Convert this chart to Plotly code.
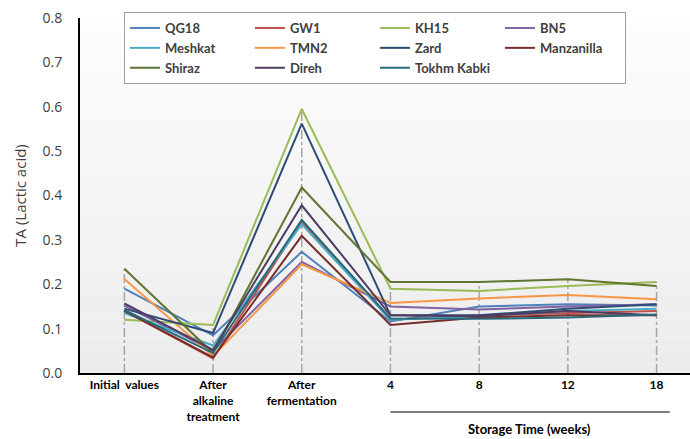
import plotly.graph_objects as go

categories = ["Initial  values", "After<br>alkaline<br>treatment", "After<br>fermentation", "4", "8", "12", "18"]

series_names = ["QG18", "GW1", "KH15", "BN5", "Meshkat", "TMN2", "Zard",
                "Manzanilla", "Shiraz", "Direh", "Tokhm Kabki"]

QG18 = [0.190, 0.085, 0.273, 0.116, 0.150, 0.155, 0.152]
GW1 = [0.140, 0.033, 0.341, 0.120, 0.130, 0.135, 0.140]
KH15 = [0.120, 0.108, 0.595, 0.190, 0.185, 0.196, 0.205]
BN5 = [0.152, 0.050, 0.250, 0.150, 0.143, 0.150, 0.155]
Meshkat = [0.135, 0.062, 0.335, 0.120, 0.128, 0.140, 0.145]
TMN2 = [0.212, 0.038, 0.245, 0.158, 0.168, 0.176, 0.166]
Zard = [0.145, 0.090, 0.562, 0.130, 0.130, 0.145, 0.155]
Manzanilla = [0.140, 0.035, 0.309, 0.108, 0.125, 0.130, 0.130]
Shiraz = [0.235, 0.045, 0.418, 0.205, 0.205, 0.211, 0.196]
Direh = [0.157, 0.052, 0.378, 0.130, 0.128, 0.140, 0.130]
TokhmKabki = [0.142, 0.045, 0.345, 0.123, 0.122, 0.125, 0.132]

values = [QG18, GW1, KH15, BN5, Meshkat, TMN2, Zard, Manzanilla, Shiraz, Direh, TokhmKabki]

colors = ["#4F81BD", "#C0504D", "#9BBB59", "#8064A2", "#4BACC6", "#F79646",
          "#2C4D75", "#772C2A", "#5F7530", "#4D3B62", "#276A7C"]

xs = list(range(len(categories)))

fig = go.Figure()

# drop lines from the highest value of each category down to the axis
dx, dy = [], []
for i in xs:
    top = max(v[i] for v in values)
    dx += [i, i, None]
    dy += [0, top, None]
fig.add_trace(go.Scatter(x=dx, y=dy, mode="lines", showlegend=False, hoverinfo="skip",
                         line=dict(color="#A6A6A6", width=1.5, dash="dashdot")))

for name, vals, col in zip(series_names, values, colors):
    fig.add_trace(go.Scatter(x=xs, y=vals, mode="lines", name=name,
                             line=dict(color=col, width=2)))

ytop = 355 / 361

# gradient plot background
shapes = []
n = 40
for k in range(n):
    t = k / (n - 1)
    c = int(round(253 - 17 * t))
    shapes.append(dict(type="rect", xref="paper", yref="paper",
                       x0=0, x1=1, y0=ytop * (1 - (k + 1) / n), y1=ytop * (1 - k / n),
                       fillcolor=f"rgb({c},{c},{c})", line=dict(width=0), layer="below"))
# storage time underline
shapes.append(dict(type="line", xref="x", yref="paper", x0=3.0, x1=6.15, y0=-0.108, y1=-0.108,
                   line=dict(color="#000000", width=1)))

fig.update_layout(
    width=690, height=439,
    margin=dict(l=80, r=0, t=12, b=66),
    paper_bgcolor="white",
    plot_bgcolor="rgba(0,0,0,0)",
    shapes=shapes,
    font=dict(family="Lato, Open Sans, sans-serif", color="#000000"),
    showlegend=True,
    legend=dict(orientation="h", x=0.072, y=1.0, xanchor="left", yanchor="top",
                bgcolor="white", bordercolor="#A0A0A0", borderwidth=1,
                entrywidth=80, entrywidthmode="pixels",
                font=dict(family="Lato, sans-serif", size=13, color="#404040", weight="bold"),
                tracegroupgap=0, itemwidth=30),
    xaxis=dict(range=[-0.5, 6.377], tickmode="array", tickvals=xs, ticktext=categories,
               showgrid=False, zeroline=False, showline=True, linecolor="#000000", linewidth=2,
               ticks="", automargin=False,
               tickfont=dict(family="Lato, sans-serif", size=12, color="#000000", weight="bold")),
    yaxis=dict(range=[0, 0.8], domain=[0, ytop], dtick=0.1, tickformat=".1f", showgrid=False,
               zeroline=False, showline=True, linecolor="#000000", linewidth=2,
               ticks="outside", ticklen=13, tickcolor="rgba(0,0,0,0)", automargin=False,
               tickfont=dict(family="Open Sans, sans-serif", size=14, color="#404040"),
               title=dict(text="TA (Lactic acid)", font=dict(family="Open Sans, sans-serif", size=15, color="#404040"),
                          standoff=12)),
    annotations=[dict(text="<b>Storage Time (weeks)</b>", xref="x", yref="paper", x=4.57, y=-0.155,
                      showarrow=False, xanchor="center", yanchor="middle",
                      font=dict(family="Lato, sans-serif", size=13, color="#000000"))],
)

fig.write_html("out.html", config={"displayModeBar": False},
               post_script="document.body.style.margin='0px';")
